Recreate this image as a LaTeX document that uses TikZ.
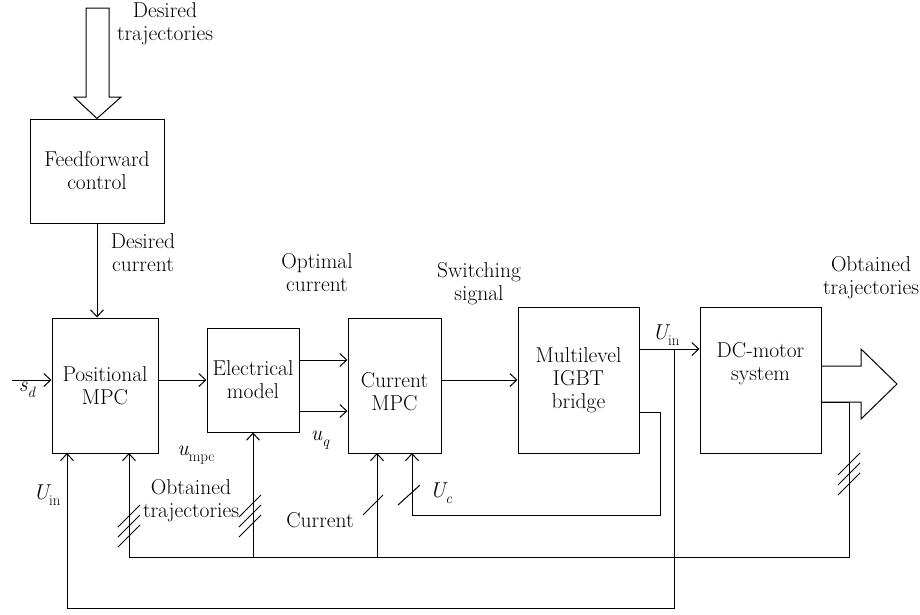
\documentclass[tikz,border=0pt]{standalone}
\usepackage{fontspec}
\usetikzlibrary{arrows.meta,calc}
\newcommand\mysub[1]{\raisebox{-0.3em}{\fontsize{15}{15}\selectfont #1}}
\begin{document}
\begin{tikzpicture}[x=1pt,y=-1pt,line width=1pt,
  box/.style={draw,line width=1pt,inner sep=0pt,align=center},
  arr/.style={-{Straight Barb[length=7pt,width=13pt,line width=1pt]}},
  lbl/.style={align=center,inner sep=0pt},
  font=\fontsize{21.5}{23}\selectfont]
\useasboundingbox (0,0) rectangle (920,614);

% blocks
\node[box,minimum width=134pt,minimum height=104pt] (ff) at (97,171) {Feedforward\\control};
\node[box,minimum width=106pt,minimum height=135pt] (pos) at (105,385.5) {Positional\\MPC};
\node[box,minimum width=92pt,minimum height=104pt] (elec) at (253,380) {Electrical\\model};
\node[box,minimum width=93pt,minimum height=135pt] (cur) at (394.5,385.5) {};
\node[lbl] (curt) at (394.5,392) {Current\\MPC};
\node[box,minimum width=121pt,minimum height=146pt] (igbt) at (578.5,380) {Multilevel\\IGBT\\bridge};
\node[box,minimum width=121pt,minimum height=146pt] (dc) at (760.5,380) {};
\node[lbl] (dct) at (760.5,364) {DC-motor\\system};

% coordinates
\coordinate (sd) at (12,380);
\coordinate (uin) at (674,349);
\coordinate (uinb) at (674,608);
\coordinate (posl) at (67,453);
\coordinate (posr) at (129,453);
\coordinate (curl) at (377,453);
\coordinate (curr) at (412,453);
\coordinate (igo) at (639,412);
\coordinate (igc) at (660,412);
\coordinate (igd) at (660,515);
\coordinate (dco) at (821,402);
\coordinate (fbk) at (849,402);
\coordinate (fbb) at (849,557);

% top hollow arrow
\draw (86,8) -- (109,8) -- (109,97) -- (121,97) -- (ff.north) -- (74,97) -- (86,97) -- cycle;

% connectors
\draw[arr] (ff.south) -- (ff.south |- pos.north);
\draw[arr] (sd) -- (sd -| pos.west);
\draw[arr] (pos.east |- elec.west) -- (elec.west);
\draw[arr] ([yshift=20pt]elec.east) -- ([yshift=20pt]elec.east -| cur.west);
\draw[arr] ([yshift=-31pt]elec.east) -- ([yshift=-31pt]elec.east -| cur.west);
\draw[arr] (cur.east |- igbt.west) -- (igbt.west);
\draw[arr] (uin -| igbt.east) -- (uin -| dc.west);
\draw[arr] (uin) -- (uinb) -- (uinb -| posl) -- (posl);
\draw[arr] (igo) -- (igc) -- (igd) -- (igd -| curr) -- (curr);
\draw (dco) -- (fbk) -- (fbb) -- (fbb -| posr);
\draw[arr] (fbb -| posr) -- (posr);
\draw[arr] (fbb -| elec.south) -- (elec.south);
\draw[arr] (fbb -| curl) -- (curl);

% output hollow arrow
\draw (dc.east |- 0,366) -- (861,366) -- (861,349) -- (897,384) -- (861,419) -- (861,402) -- (dco);

% slashes
\foreach \yy in {516,526,536} \draw (118,\yy+11) -- (140,\yy-11);
\foreach \yy in {506,516,526} \draw (239,\yy+11) -- (261,\yy-11);
\foreach \yy in {464,474,484} \draw (838,\yy+11) -- (860,\yy-11);
\draw (363,515) -- (383,495);
\draw (398,505) -- (420,485);

% labels
\node[lbl] at (165,24) {Desired\\trajectories};
\node[lbl] at (143,253) {Desired\\current};
\node[lbl] at (317,273) {Optimal\\current};
\node[lbl] at (479,284) {Switching\\signal};
\node[lbl] at (871,278) {Obtained\\trajectories};
\node[lbl] at (27,390) {\itshape s\mysub{d}};
\node[lbl] at (666,335) {\itshape U\mysub{\upshape in}};
\node[lbl] at (196,455) {\itshape u\mysub{\upshape mpc}};
\node[lbl] at (320,440) {\itshape u\mysub{q}};
\node[lbl] at (47,495) {\itshape U\mysub{\upshape in}};
\node[lbl] at (191,501) {Obtained\\trajectories};
\node[lbl] at (320,520) {Current};
\node[lbl] at (441,493) {\itshape U\mysub{c}};
\end{tikzpicture}
\end{document}
